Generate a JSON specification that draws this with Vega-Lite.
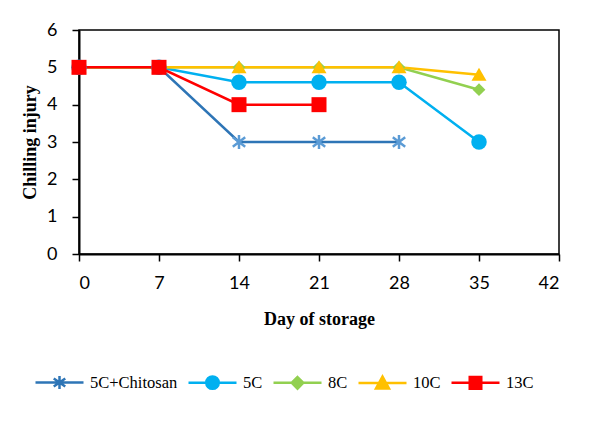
{
  "$schema": "https://vega.github.io/schema/vega-lite/v6.json",
  "width": 480,
  "height": 224,
  "autosize": {"type": "none"},
  "padding": {"left": 79, "top": 30, "right": 36, "bottom": 184},
  "background": "white",
  "config": {
    "view": {"stroke": "black", "strokeWidth": 1.5},
    "axis": {"grid": false}
  },
  "data": {
    "values": [
      {"series": "5C+Chitosan", "day": 0, "injury": 5},
      {"series": "5C+Chitosan", "day": 7, "injury": 5},
      {"series": "5C+Chitosan", "day": 14, "injury": 3},
      {"series": "5C+Chitosan", "day": 21, "injury": 3},
      {"series": "5C+Chitosan", "day": 28, "injury": 3},
      {"series": "5C", "day": 0, "injury": 5},
      {"series": "5C", "day": 7, "injury": 5},
      {"series": "5C", "day": 14, "injury": 4.6},
      {"series": "5C", "day": 21, "injury": 4.6},
      {"series": "5C", "day": 28, "injury": 4.6},
      {"series": "5C", "day": 35, "injury": 3},
      {"series": "8C", "day": 0, "injury": 5},
      {"series": "8C", "day": 7, "injury": 5},
      {"series": "8C", "day": 14, "injury": 5},
      {"series": "8C", "day": 21, "injury": 5},
      {"series": "8C", "day": 28, "injury": 5},
      {"series": "8C", "day": 35, "injury": 4.4},
      {"series": "10C", "day": 0, "injury": 5},
      {"series": "10C", "day": 7, "injury": 5},
      {"series": "10C", "day": 14, "injury": 5},
      {"series": "10C", "day": 21, "injury": 5},
      {"series": "10C", "day": 28, "injury": 5},
      {"series": "10C", "day": 35, "injury": 4.8},
      {"series": "13C", "day": 0, "injury": 5},
      {"series": "13C", "day": 7, "injury": 5},
      {"series": "13C", "day": 14, "injury": 4},
      {"series": "13C", "day": 21, "injury": 4}
    ]
  },
  "encoding": {
    "x": {
      "field": "day", "type": "quantitative",
      "scale": {"domain": [0, 42], "nice": false},
      "axis": {
        "values": [0, 7, 14, 21, 28, 35, 42],
        "title": "Day of storage",
        "titleFont": "Liberation Serif", "titleFontSize": 18, "titleFontWeight": "bold", "titleColor": "black",
        "titlePadding": 18,
        "labelFont": "Lato", "labelFontSize": 18, "labelColor": "black", "labelPadding": 13,
        "tickSize": 7, "tickColor": "black", "tickWidth": 1.5,
        "domainColor": "black", "domainWidth": 2
      }
    },
    "y": {
      "field": "injury", "type": "quantitative",
      "scale": {"domain": [0, 6], "nice": false},
      "axis": {
        "values": [0, 1, 2, 3, 4, 5, 6],
        "title": "Chilling injury",
        "titleFont": "Liberation Serif", "titleFontSize": 18, "titleFontWeight": "bold", "titleColor": "black",
        "titlePadding": 7,
        "labelFont": "Lato", "labelFontSize": 18, "labelColor": "black", "labelPadding": 15,
        "tickSize": 7, "tickColor": "black", "tickWidth": 1.5,
        "domainColor": "black", "domainWidth": 2
      }
    },
    "color": {
      "field": "series", "type": "nominal",
      "scale": {
        "domain": ["5C+Chitosan", "5C", "8C", "10C", "13C"],
        "range": ["#2E75B6", "#00B0F0", "#92D050", "#FFC000", "#FF0000"]
      },
      "legend": {
        "title": null,
        "orient": "none",
        "legendX": -45,
        "legendY": 327,
        "direction": "horizontal",
        "columns": 5,
        "symbolSize": 2304,
        "symbolStrokeWidth": 2.5,
        "labelFont": "Liberation Serif",
        "labelFontSize": 16.5,
        "labelColor": "black",
        "labelOffset": 5,
        "columnPadding": 5,
        "encode": {
          "symbols": {
            "update": {
              "shape": {"signal": "datum.value === '5C+Chitosan' ? 'M-1,0H1M0,-0.27V0.27M-0.24,-0.17L0.24,0.17M-0.24,0.17L0.24,-0.17' : datum.value === '5C' ? 'M-1,0H1M0.26,0A0.26,0.26,0,1,1,-0.26,0A0.26,0.26,0,1,1,0.26,0Z' : datum.value === '8C' ? 'M-1,0H1M0,-0.24L0.24,0L0,0.24L-0.24,0Z' : datum.value === '10C' ? 'M-1,0H1M0,-0.27L0.27,0.22H-0.27Z' : 'M-1,0H1M-0.24,-0.24H0.24V0.24H-0.24Z'"},
              "fill": {"scale": "color", "field": "value"},
              "stroke": {"scale": "color", "field": "value"},
              "strokeWidth": {"value": 2.5},
              "opacity": {"value": 1},
              "size": {"value": 2304}
            }
          }
        }
      }
    }
  },
  "layer": [
    {
      "mark": {"type": "line", "strokeWidth": 2.5},
      "encoding": {}
    },
    {
      "transform": [{"filter": "datum.series === '5C+Chitosan'"}],
      "mark": {"type": "point", "filled": false, "opacity": 1, "size": 240, "strokeWidth": 2.5, "stroke": "#5B9BD5",
               "shape": "M0,-0.9V0.9M-0.8,-0.6L0.8,0.6M-0.8,0.6L0.8,-0.6"}
    },
    {
      "transform": [{"filter": "datum.series === '5C'"}],
      "mark": {"type": "point", "filled": true, "opacity": 1, "size": 240, "shape": "circle"}
    },
    {
      "transform": [{"filter": "datum.series === '8C'"}],
      "mark": {"type": "point", "filled": true, "opacity": 1, "size": 225, "shape": "M0,-0.85L0.85,0L0,0.85L-0.85,0Z"}
    },
    {
      "transform": [{"filter": "datum.series === '10C'"}],
      "mark": {"type": "point", "filled": true, "opacity": 1, "size": 225, "shape": "M0,-0.95L1,0.8H-1Z"}
    },
    {
      "transform": [{"filter": "datum.series === '13C'"}],
      "mark": {"type": "point", "filled": true, "opacity": 1, "size": 225, "shape": "square"}
    }
  ]
}
